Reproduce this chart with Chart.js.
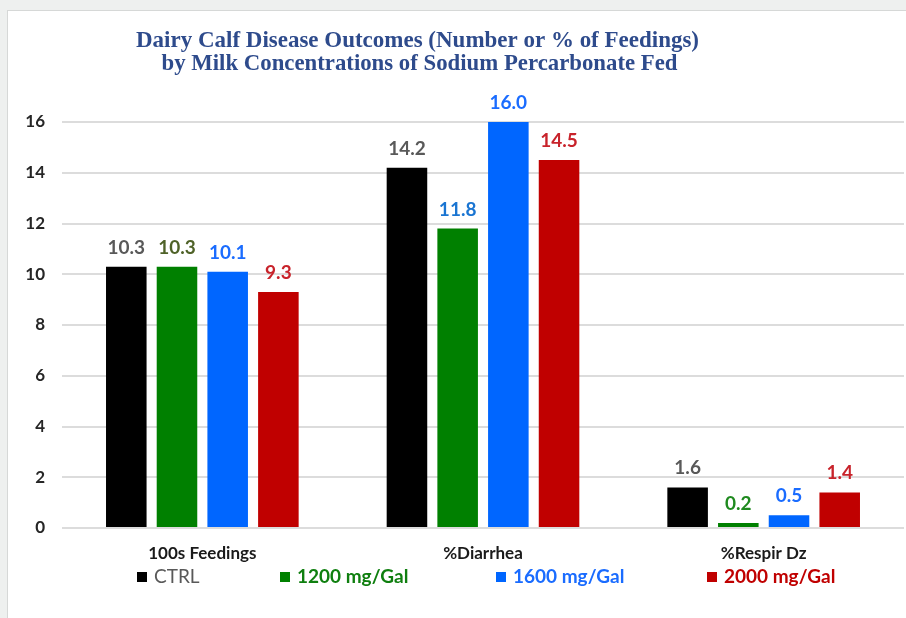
<!DOCTYPE html>
<html><head><meta charset="utf-8">
<script src="https://cdn.jsdelivr.net/npm/chart.js@4.4.1/dist/chart.umd.min.js"></script>
<style>
html,body{margin:0;padding:0;background:#eef0ef;width:906px;height:618px;overflow:hidden}
#panel{position:absolute;left:7px;top:10px;width:899px;height:608px;background:#fff;border-top:1px solid #d6d8d7;border-left:1px solid #d6d8d7;box-sizing:border-box}
#wrap{position:absolute;left:0;top:0;width:906px;height:618px}
</style></head><body>
<div id="panel"></div>
<div id="wrap"><canvas id="c" width="906" height="618"></canvas></div>
<script>
// ---- data ----
const categories = ['100s Feedings', '%Diarrhea', '%Respir Dz'];
const seriesNames = ['CTRL', '1200 mg/Gal', '1600 mg/Gal', '2000 mg/Gal'];
const ctrlValues   = [10.3, 14.2, 1.6];
const mg1200Values = [10.3, 11.8, 0.2];
const mg1600Values = [10.1, 16.0, 0.5];
const mg2000Values = [9.3, 14.5, 1.4];
const yTicks = [0, 2, 4, 6, 8, 10, 12, 14, 16];
const titleLines = ['Dairy Calf Disease Outcomes (Number or % of Feedings)', 'by Milk Concentrations of Sodium Percarbonate Fed'];

// ---- styles ----
const barColors = ['#000000', '#008000', '#0066ff', '#c00000'];
const legendTextColors = ['#595959', '#0f7f0f', '#1a6cff', '#c00000'];
const legendWeights = ['normal', 'bold', 'bold', 'bold'];
const labelColors = [
  ['#595959', '#595959', '#595959'],
  ['#4f6228', '#1a75d2', '#1f8a1f'],
  ['#1a6cff', '#1a6cff', '#1a6cff'],
  ['#c8232b', '#c8232b', '#c8232b']
];
const seriesValues = [ctrlValues, mg1200Values, mg1600Values, mg2000Values];

const titlePlugin = {
  id: 'titleLines',
  afterDraw(chart) {
    const ctx = chart.ctx;
    const specs = [{cx: 417.5, y: 47, w: 563}, {cx: 419.5, y: 70, w: 516}];
    ctx.save();
    ctx.font = 'bold 23px "Liberation Serif"';
    ctx.fillStyle = '#2e4b8c';
    ctx.textBaseline = 'alphabetic';
    ctx.textAlign = 'center';
    titleLines.forEach((t, i) => {
      const s = specs[i];
      const nat = ctx.measureText(t).width;
      ctx.save();
      ctx.translate(s.cx, s.y);
      ctx.scale(s.w / nat, 1);
      ctx.fillText(t, 0, 0);
      ctx.restore();
    });
    ctx.restore();
  }
};

const valueLabels = {
  id: 'valueLabels',
  afterDatasetsDraw(chart) {
    const ctx = chart.ctx;
    ctx.save();
    ctx.font = 'bold 19px Lato';
    ctx.textAlign = 'center';
    ctx.textBaseline = 'alphabetic';
    chart.data.datasets.forEach((ds, i) => {
      chart.getDatasetMeta(i).data.forEach((bar, j) => {
        ctx.fillStyle = labelColors[i][j];
        ctx.fillText(ds.data[j].toFixed(1), bar.x, bar.y - 13);
      });
    });
    ctx.restore();
  }
};

const legendPlugin = {
  id: 'customLegend',
  afterDraw(chart) {
    const ctx = chart.ctx;
    const starts = [137, 280, 496, 707];
    ctx.save();
    ctx.textAlign = 'left';
    ctx.textBaseline = 'alphabetic';
    chart.data.datasets.forEach((ds, i) => {
      const x = starts[i];
      ctx.fillStyle = ds.backgroundColor;
      ctx.fillRect(x, 572, 10, 10);
      ctx.font = legendWeights[i] + ' 19px Lato';
      ctx.fillStyle = legendTextColors[i];
      ctx.fillText(ds.label, x + 17, 583);
    });
    ctx.restore();
  }
};

new Chart(document.getElementById('c'), {
  type: 'bar',
  data: {
    labels: categories,
    datasets: seriesNames.map((n, i) => ({
      label: n,
      data: seriesValues[i],
      backgroundColor: barColors[i],
      borderWidth: 0,
      categoryPercentage: 0.7225,
      barPercentage: 0.8
    }))
  },
  options: {
    responsive: false,
    animation: false,
    layout: {padding: {top: 122, right: 2, left: 0, bottom: 0}},
    plugins: {legend: {display: false}, title: {display: false}, tooltip: {enabled: false}},
    scales: {
      x: {
        grid: {display: false, drawTicks: false},
        border: {display: false},
        ticks: {color: '#1a1a1a', font: {family: 'Lato', weight: 'bold', size: 17}, padding: 15},
        afterFit(s) { s.height = 90; }
      },
      y: {
        min: 0, max: 16,
        afterBuildTicks(s) { s.ticks = yTicks.map(v => ({value: v})); },
        grid: {color: '#dcdcdc', lineWidth: 2, drawTicks: false},
        border: {display: false},
        ticks: {color: '#262626', font: {family: 'Lato', weight: 'bold', size: 17}, padding: 17},
        afterFit(s) { s.width = 62; }
      }
    }
  },
  plugins: [titlePlugin, valueLabels, legendPlugin]
});
</script>
</body></html>
